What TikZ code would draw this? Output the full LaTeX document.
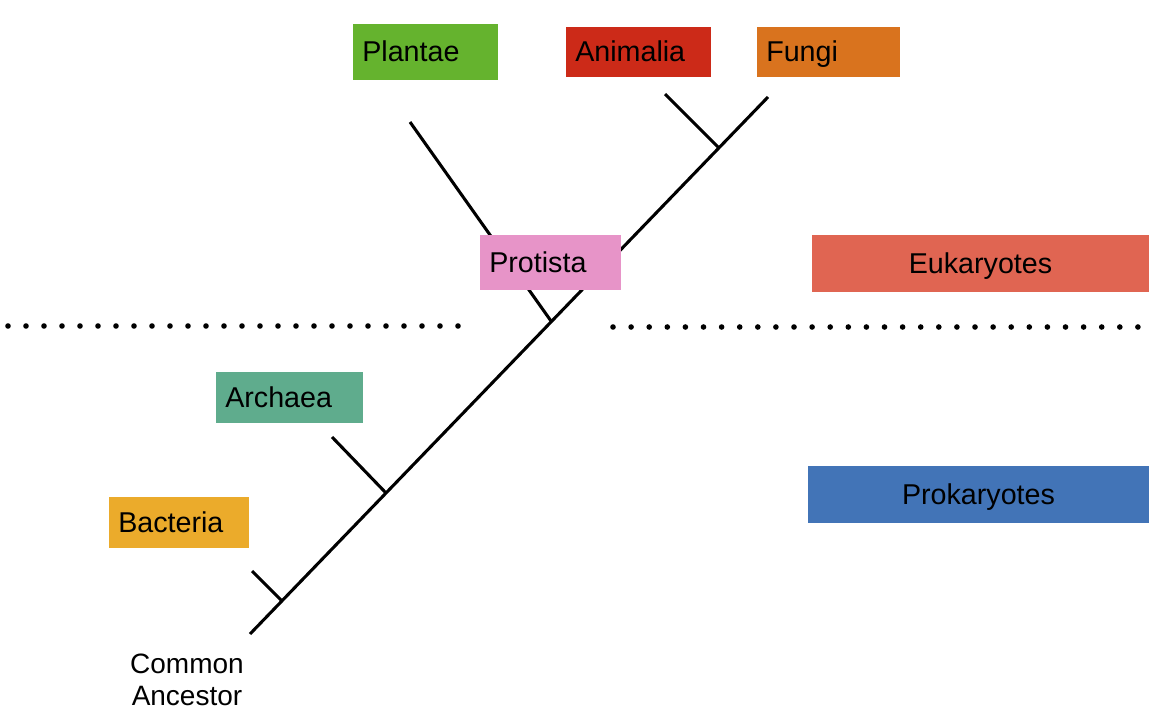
\documentclass[tikz,border=0pt]{standalone}
\usepackage{fontspec}
\setmainfont{Liberation Sans}
\definecolor{cPlantae}{HTML}{65B32E}
\definecolor{cAnimalia}{HTML}{CC2A18}
\definecolor{cFungi}{HTML}{D9731E}
\definecolor{cProtista}{HTML}{E794C8}
\definecolor{cEuk}{HTML}{E06552}
\definecolor{cProk}{HTML}{4274B7}
\definecolor{cArchaea}{HTML}{5FAC8D}
\definecolor{cBacteria}{HTML}{EBAB2B}
\begin{document}
\begin{tikzpicture}[x=0.75pt,y=-0.75pt,
  tree/.style={line width=2.3pt, line cap=butt},
  lbl/.style={font=\fontsize{21.5}{24}\selectfont},
  taxon/.style={lbl, fill=#1, anchor=north west, inner xsep=6.75pt, inner ysep=0pt,
    align=left, text height=14.6pt, text depth=0pt},
  group/.style={lbl, fill=#1, anchor=center, inner sep=0pt,
    text height=14.6pt, text depth=0pt},
  dot/.style={fill=black}]
\useasboundingbox (0,0) rectangle (1162,724);
% tree coordinates
\coordinate (root) at (250,634);
\coordinate (tip) at (768,97);
\coordinate (jB) at (282,601);
\coordinate (eB) at (252,571);
\coordinate (jA) at (386,493);
\coordinate (eA) at (332,437);
\coordinate (jP) at (551,321);
\coordinate (eP) at (410,122);
\coordinate (jF) at (719,148);
\coordinate (eF) at (665,94);
% tree lines
\draw[tree] (root) -- (tip);
\draw[tree] (jB) -- (eB);
\draw[tree] (jA) -- (eA);
\draw[tree] (jP) -- (eP);
\draw[tree] (jF) -- (eF);
% dotted separators
\foreach \i in {0,...,25} \fill[dot] (8+18*\i,326) circle (2.1pt);
\foreach \i in {0,...,29} \fill[dot] (613+18.1*\i,327) circle (2.1pt);
% taxa
\node[taxon=cPlantae, text width=95pt, minimum height=42pt] (plantae) at (353,24) {Plantae};
\node[taxon=cAnimalia, text width=95pt, minimum height=37pt] (animalia) at (566,27) {Animalia};
\node[taxon=cFungi, text width=93.75pt, minimum height=37pt] (fungi) at (757,27) {Fungi};
\node[taxon=cProtista, text width=92.25pt, minimum height=41.25pt] (protista) at (480,235) {Protista};
\node[taxon=cArchaea, text width=96.75pt, minimum height=38.25pt] (archaea) at (216,372) {Archaea};
\node[taxon=cBacteria, text width=91.5pt, minimum height=38.25pt] (bacteria) at (109,497) {Bacteria};
% groups
\node[group=cEuk, minimum width=252.75pt, minimum height=42.75pt] (euk) at (980.5,263.5) {Eukaryotes};
\node[group=cProk, minimum width=255.75pt, minimum height=42.75pt] (prok) at (978.5,494.5) {Prokaryotes};
% common ancestor
\node[lbl, align=center, font=\fontsize{21}{24}\selectfont] (ancestor) at (187,680) {Common\\Ancestor};
\end{tikzpicture}
\end{document}
